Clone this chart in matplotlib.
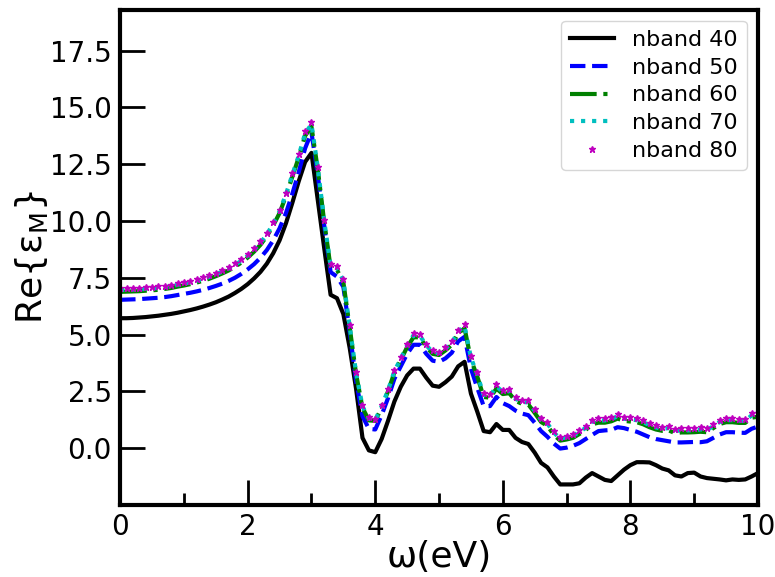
import numpy as np
import matplotlib
matplotlib.use('Agg')
import matplotlib.pyplot as plt
from matplotlib.ticker import MultipleLocator

# %%
# Energy grid (eV), 0.1 eV step
omega = np.round(np.arange(101) * 0.1, 1)

# Re{eps_M} for each number of bands
nband40 = [5.72, 5.72, 5.73, 5.75, 5.77, 5.80, 5.83, 5.87, 5.91, 5.96,
           6.02, 6.08, 6.15, 6.23, 6.32, 6.42, 6.54, 6.67, 6.83, 7.01,
           7.22, 7.47, 7.76, 8.12, 8.58, 9.15, 9.90, 10.8, 11.75, 12.6,
           13.0, 10.9, 8.8, 6.75, 6.6, 5.9, 4.4, 2.6, 0.45, -0.1,
           -0.18, 0.4, 1.2, 2.05, 2.7, 3.2, 3.5, 3.5, 3.1, 2.75,
           2.7, 2.9, 3.15, 3.6, 3.8, 2.4, 1.6, 0.75, 0.7, 1.06,
           0.8, 0.8, 0.45, 0.27, 0.18, -0.2, -0.65, -0.85, -1.25, -1.6,
           -1.6, -1.6, -1.55, -1.3, -1.1, -1.25, -1.4, -1.45, -1.2, -0.95,
           -0.75, -0.62, -0.62, -0.63, -0.75, -0.9, -0.98, -1.2, -1.25, -1.1,
           -1.08, -1.25, -1.32, -1.35, -1.38, -1.42, -1.38, -1.4, -1.38, -1.25,
           -1.1]

nband50 = [6.53, 6.54, 6.55, 6.56, 6.58, 6.60, 6.62, 6.65, 6.69, 6.74,
           6.79, 6.84, 6.90, 6.97, 7.05, 7.14, 7.24, 7.36, 7.50, 7.67,
           7.87, 8.10, 8.38, 8.72, 9.15, 9.68, 10.35, 11.2, 12.15, 13.2,
           13.9, 12.0, 9.8, 7.75, 7.55, 7.1, 5.1, 2.95, 1.4, 0.85,
           0.82, 1.45, 2.2, 3.05, 3.6, 4.15, 4.55, 4.55, 4.15, 3.85,
           3.8, 3.95, 4.2, 4.7, 4.9, 3.5, 2.65, 1.85, 1.85, 2.25,
           1.98, 1.85, 1.65, 1.52, 1.45, 1.12, 0.75, 0.5, 0.2, -0.02,
           0.02, 0.1, 0.22, 0.4, 0.58, 0.75, 0.78, 0.8, 0.92, 0.88,
           0.8, 0.72, 0.6, 0.48, 0.4, 0.35, 0.3, 0.25, 0.25, 0.26,
           0.27, 0.26, 0.3, 0.45, 0.6, 0.7, 0.7, 0.68, 0.67, 0.85,
           0.95]

nband60 = [6.88, 6.89, 6.90, 6.91, 6.93, 6.95, 6.97, 7.01, 7.05, 7.11,
           7.16, 7.22, 7.29, 7.37, 7.46, 7.57, 7.69, 7.82, 7.98, 8.17,
           8.39, 8.65, 8.95, 9.33, 9.8, 10.35, 11.1, 11.95, 12.8, 13.75,
           14.15, 12.25, 9.95, 7.95, 7.85, 7.3, 5.3, 3.25, 1.78, 1.22,
           1.2, 1.78, 2.5, 3.33, 3.88, 4.45, 4.88, 4.88, 4.45, 4.15,
           4.1, 4.3, 4.55, 5.05, 5.28, 3.9, 3.15, 2.25, 2.22, 2.62,
           2.38, 2.42, 2.08, 1.95, 1.92, 1.55, 1.15, 0.98, 0.58, 0.33,
           0.38, 0.45, 0.62, 0.8, 1.05, 1.12, 1.12, 1.18, 1.3, 1.2,
           1.17, 1.14, 1.05, 0.92, 0.82, 0.76, 0.78, 0.66, 0.69, 0.69,
           0.7, 0.72, 0.7, 0.88, 1.06, 1.14, 1.14, 1.11, 1.11, 1.34,
           1.38]

nband70 = [6.96, 6.97, 6.98, 6.99, 7.01, 7.03, 7.05, 7.09, 7.13, 7.19,
           7.24, 7.30, 7.37, 7.45, 7.54, 7.65, 7.77, 7.90, 8.06, 8.25,
           8.47, 8.73, 9.03, 9.41, 9.88, 10.43, 11.18, 12.04, 12.88, 13.86,
           14.26, 12.33, 10.0, 8.03, 7.93, 7.38, 5.35, 3.3, 1.84, 1.29,
           1.25, 1.84, 2.55, 3.39, 3.94, 4.53, 4.97, 4.95, 4.53, 4.22,
           4.18, 4.38, 4.63, 5.14, 5.37, 3.98, 3.24, 2.34, 2.3, 2.72,
           2.47, 2.52, 2.17, 2.03, 2.01, 1.64, 1.24, 1.08, 0.68, 0.42,
           0.47, 0.54, 0.71, 0.89, 1.15, 1.22, 1.22, 1.28, 1.4, 1.29,
           1.26, 1.23, 1.14, 1.01, 0.91, 0.85, 0.88, 0.75, 0.78, 0.78,
           0.79, 0.82, 0.79, 0.97, 1.15, 1.23, 1.23, 1.2, 1.2, 1.44,
           1.47]

nband80 = [7.03, 7.04, 7.05, 7.06, 7.08, 7.10, 7.12, 7.16, 7.20, 7.26,
           7.31, 7.37, 7.44, 7.52, 7.61, 7.72, 7.84, 7.97, 8.13, 8.32,
           8.54, 8.80, 9.10, 9.48, 9.95, 10.5, 11.25, 12.12, 12.95, 13.95,
           14.35, 12.4, 10.05, 8.1, 8.0, 7.45, 5.4, 3.35, 1.9, 1.35,
           1.3, 1.9, 2.6, 3.45, 4.0, 4.6, 5.05, 5.02, 4.6, 4.3,
           4.25, 4.45, 4.7, 5.22, 5.45, 4.05, 3.33, 2.42, 2.38, 2.82,
           2.55, 2.62, 2.26, 2.12, 2.1, 1.72, 1.33, 1.17, 0.77, 0.5,
           0.55, 0.62, 0.8, 0.98, 1.25, 1.32, 1.32, 1.38, 1.5, 1.38,
           1.35, 1.32, 1.23, 1.1, 1.0, 0.94, 0.97, 0.83, 0.87, 0.87,
           0.88, 0.91, 0.88, 1.06, 1.24, 1.32, 1.32, 1.29, 1.29, 1.54,
           1.55]

labels = ['nband 40', 'nband 50', 'nband 60', 'nband 70', 'nband 80']

# %%
fig = plt.figure(figsize=(7.75, 5.77), dpi=100)
ax = fig.add_axes([0.155, 0.125, 0.823, 0.858])

ax.plot(omega, nband40, 'k-', lw=3, label=labels[0])
ax.plot(omega, nband50, 'b--', lw=3, label=labels[1])
ax.plot(omega, nband60, 'g-.', lw=3, label=labels[2])
ax.plot(omega, nband70, 'c:', lw=3, label=labels[3])
ax.plot(omega, nband80, 'm*', ms=5, label=labels[4])

ax.set_xlim(0, 10)
ax.set_ylim(-2.5, 19.3)
ax.set_yticks([0.0, 2.5, 5.0, 7.5, 10.0, 12.5, 15.0, 17.5])
ax.xaxis.set_major_locator(MultipleLocator(2))
ax.xaxis.set_minor_locator(MultipleLocator(1))

for sp in ax.spines.values():
    sp.set_linewidth(3)
ax.tick_params(which='major', direction='in', length=18, width=2, labelsize=20, pad=6)
ax.tick_params(which='minor', direction='in', length=9, width=2)

ax.set_xlabel('ω(eV)', fontsize=26, labelpad=-1)
ax.set_ylabel(r'Re{$\mathregular{\varepsilon_M}$}', fontsize=26, labelpad=0)

ax.legend(loc='upper right', fontsize=16, handlelength=2.0, labelspacing=0.35)

fig.savefig('out.png', dpi=100)
